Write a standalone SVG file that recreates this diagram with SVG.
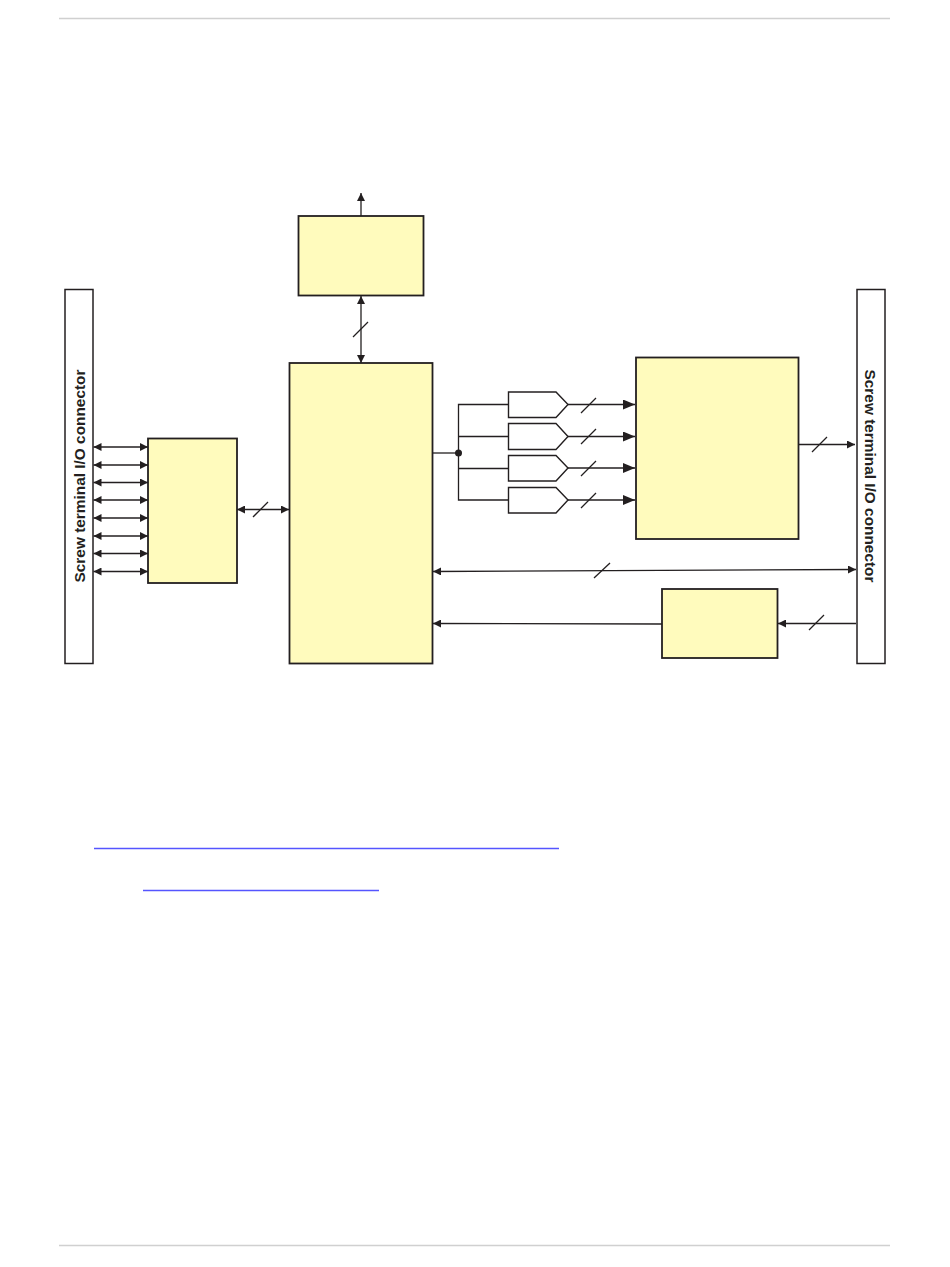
<svg xmlns="http://www.w3.org/2000/svg" width="950" height="1267" viewBox="0 0 950 1267">
<style>
.box{fill:#fffbbd;stroke:#231f20;stroke-width:1.8}
.bar{fill:#fff;stroke:#231f20;stroke-width:1.5}
.buf{fill:#fff;stroke:#231f20;stroke-width:1.4}
.w{fill:none;stroke:#231f20;stroke-width:1.3}
.h{fill:none;stroke:#231f20;stroke-width:1.7}
.a{fill:#231f20}
.rule{stroke:#d0d0d0;stroke-width:1.4}
.link{stroke:#5555ff;stroke-width:1.3}
.t{font-family:"Liberation Sans",Arial,sans-serif;font-size:15.4px;font-weight:bold;fill:#231f20;text-anchor:middle;dominant-baseline:central}
</style>
<defs>
<marker id="end" markerUnits="userSpaceOnUse" markerWidth="9" markerHeight="8" refX="8" refY="4" orient="auto-start-reverse"><path class="a" d="M0 0L8 4L0 8Z"/></marker>
<marker id="big" markerUnits="userSpaceOnUse" markerWidth="13" markerHeight="10" refX="12" refY="5" orient="auto"><path class="a" d="M0 0L12 5L0 10Z"/></marker>
</defs>
<line id="top-rule" class="rule" x1="59" y1="18.500" x2="890" y2="18.500"/>
<line id="bottom-rule" class="rule" x1="59" y1="1245.500" x2="890" y2="1245.500"/>
<g id="connectors">
<path class="w" d="M361 216V193" marker-end="url(#end)"/>
<path class="w" d="M361 296V363" marker-start="url(#end)" marker-end="url(#end)"/>
<path class="w" d="M353 337L368 322"/>
<path class="h" d="M93.500 447H148" marker-start="url(#end)" marker-end="url(#end)"/>
<path class="h" d="M93.500 465H148" marker-start="url(#end)" marker-end="url(#end)"/>
<path class="h" d="M93.500 482.500H148" marker-start="url(#end)" marker-end="url(#end)"/>
<path class="h" d="M93.500 500H148" marker-start="url(#end)" marker-end="url(#end)"/>
<path class="h" d="M93.500 518H148" marker-start="url(#end)" marker-end="url(#end)"/>
<path class="h" d="M93.500 536H148" marker-start="url(#end)" marker-end="url(#end)"/>
<path class="h" d="M93.500 553.500H148" marker-start="url(#end)" marker-end="url(#end)"/>
<path class="h" d="M93.500 571.500H148" marker-start="url(#end)" marker-end="url(#end)"/>
<path class="w" d="M237 509.500H289" marker-start="url(#end)" marker-end="url(#end)"/>
<path class="w" d="M253 517L268 502"/>
<path class="w" d="M433 453H458"/>
<path class="w" d="M508 404.500H458.500V500H508M458.500 436.500H509M458.500 468.500H509"/>
<circle class="a" cx="458.500" cy="453" r="3.500"/>
<path class="h" d="M568 404.500H635" marker-end="url(#big)"/>
<path class="h" d="M568 436.500H635" marker-end="url(#big)"/>
<path class="h" d="M568 468H635" marker-end="url(#big)"/>
<path class="h" d="M568 500H635" marker-end="url(#big)"/>
<path class="w" d="M581 413L596 398M581 444L596 429M581 476L596 461M581 508L596 493"/>
<path class="w" d="M799 444.500H855" marker-end="url(#end)"/>
<path class="w" d="M812 452L827 437"/>
<path class="w" d="M433 571.500L856 569.500" marker-start="url(#end)" marker-end="url(#end)"/>
<path class="w" d="M594 578L610 563"/>
<path class="w" d="M662 624L433 623.500" marker-end="url(#end)"/>
<path class="w" d="M856 623.500H778" marker-end="url(#end)"/>
<path class="w" d="M809 630L824 615"/>
</g>
<g id="left-connector"><rect class="bar" x="65" y="289.500" width="28" height="374"/><text class="t" transform="translate(79 476) rotate(-90)">Screw terminal I/O connector</text></g>
<g id="right-connector"><rect class="bar" x="857" y="289.500" width="28" height="374"/><text class="t" transform="translate(870 476) rotate(90)">Screw terminal I/O connector</text></g>
<g id="top-block"><rect class="box" x="298.500" y="216" width="125" height="79.500"/></g>
<g id="io-block"><rect class="box" x="148" y="438.500" width="89" height="144.500"/></g>
<g id="center-block"><rect class="box" x="289.500" y="363" width="143" height="300.500"/></g>
<g id="right-block"><rect class="box" x="636" y="357.500" width="162.500" height="181.500"/></g>
<g id="small-block"><rect class="box" x="662" y="589" width="115.500" height="69"/></g>
<g id="buffer-1"><path class="buf" d="M508.500 392H556L568 404.500L556 417.500H508.500Z"/></g>
<g id="buffer-2"><path class="buf" d="M508.500 423.500H556L568 436.500L556 449.500H508.500Z"/></g>
<g id="buffer-3"><path class="buf" d="M508.500 455.500H556L568 468L556 481H508.500Z"/></g>
<g id="buffer-4"><path class="buf" d="M508.500 487.500H556L568 500L556 513H508.500Z"/></g>
<line class="link" x1="94" y1="848.500" x2="559" y2="848.500"/>
<line class="link" x1="143" y1="890.500" x2="379" y2="890.500"/>
</svg>
